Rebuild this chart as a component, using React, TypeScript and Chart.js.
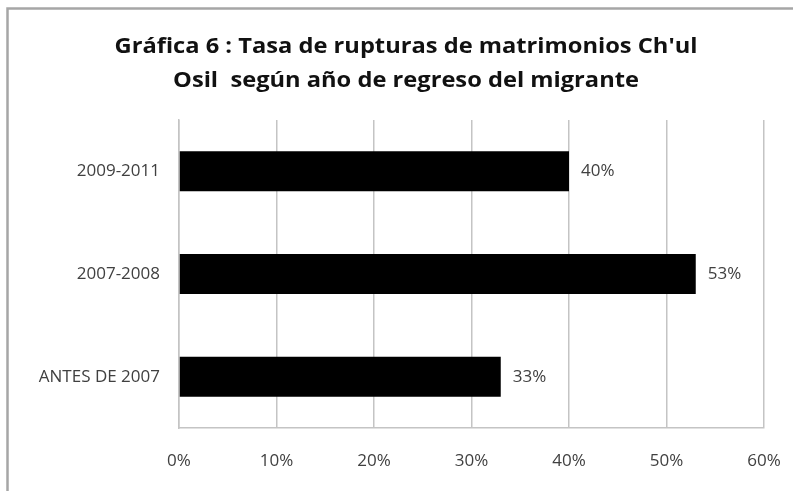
import React, { useEffect, useRef } from "react";
import { Chart, registerables } from "chart.js";

Chart.register(...registerables);

const categories = ["2009-2011", "2007-2008", "ANTES DE 2007"];
const values = [40, 53, 33];
const titleLines = ["Gráfica 6 : Tasa de rupturas de matrimonios Ch'ul", "Osil  según año de regreso del migrante"];

const FONT = "'Open Sans', 'DejaVu Sans', sans-serif";

const framePlugin = {
  id: "frame",
  beforeDraw(chart: any) {
    const ctx = chart.ctx;
    ctx.save();
    ctx.fillStyle = "#ffffff";
    ctx.fillRect(0, 0, chart.width, chart.height);
    ctx.strokeStyle = "#a6a6a6";
    ctx.lineWidth = 2.5;
    ctx.beginPath();
    ctx.moveTo(7.5, chart.height + 5);
    ctx.lineTo(7.5, 8.5);
    ctx.lineTo(chart.width + 5, 8.5);
    ctx.stroke();
    ctx.restore();
    // title
    ctx.save();
    ctx.fillStyle = "#111111";
    ctx.font = "bold 22px " + FONT;
    ctx.textAlign = "center";
    ctx.textBaseline = "alphabetic";
    const w = ctx.measureText(titleLines[0]).width;
    const sx = 583 / w;
    ctx.scale(sx, 1);
    ctx.fillText(titleLines[0], 406 / sx, 53);
    ctx.fillText(titleLines[1], 406 / sx, 87);
    ctx.restore();
  },
};

const labelPlugin = {
  id: "barLabels",
  afterDatasetsDraw(chart: any) {
    const ctx = chart.ctx;
    const meta = chart.getDatasetMeta(0);
    ctx.save();
    ctx.fillStyle = "#404040";
    ctx.font = "17px " + FONT;
    ctx.textAlign = "left";
    ctx.textBaseline = "middle";
    meta.data.forEach((el: any, i: number) => {
      ctx.fillText(values[i] + "%", el.x + 12, el.y);
    });
    ctx.restore();
  },
};

export default function App() {
  const ref = useRef<HTMLCanvasElement>(null);
  useEffect(() => {
    if (!ref.current) return;
    const chart = new Chart(ref.current, {
      type: "bar",
      data: {
        labels: categories,
        datasets: [
          {
            data: values,
            backgroundColor: "#000000",
            borderWidth: 0,
            barPercentage: 0.39,
            categoryPercentage: 1,
          },
        ],
      },
      options: {
        indexAxis: "y",
        animation: false,
        responsive: false,
        maintainAspectRatio: false,
        layout: { padding: { top: 120, right: 29, bottom: 0, left: 0 } },
        plugins: {
          legend: { display: false },
          title: { display: false },
          tooltip: { enabled: false },
        },
        scales: {
          x: {
            min: 0,
            max: 60,
            ticks: {
              stepSize: 10,
              callback: (v: any) => v + "%",
              color: "#404040",
              font: { family: FONT, size: 17 },
              padding: 23,
              maxRotation: 0,
            },
            grid: { color: "#c4c4c4", lineWidth: 1.5, drawTicks: false },
            border: { display: true, color: "#c4c4c4", width: 1.5 },
            afterFit: (scale: any) => {
              scale.height = 63;
              scale.paddingLeft = 0;
              scale.paddingRight = 0;
            },
          },
          y: {
            ticks: {
              color: "#404040",
              font: { family: FONT, size: 17 },
              padding: 19,
            },
            grid: { display: false, drawTicks: false },
            border: { display: true, color: "#c4c4c4", width: 1.5 },
            afterFit: (scale: any) => {
              scale.width = 179;
              scale.paddingTop = 0;
              scale.paddingBottom = 0;
            },
          },
        },
      },
      plugins: [framePlugin, labelPlugin],
    });
    return () => chart.destroy();
  }, []);
  return (
    <div style={{ position: "fixed", left: 0, top: 0, width: 793, height: 491 }}>
      <canvas ref={ref} width={793} height={491} style={{ display: "block" }} />
    </div>
  );
}
